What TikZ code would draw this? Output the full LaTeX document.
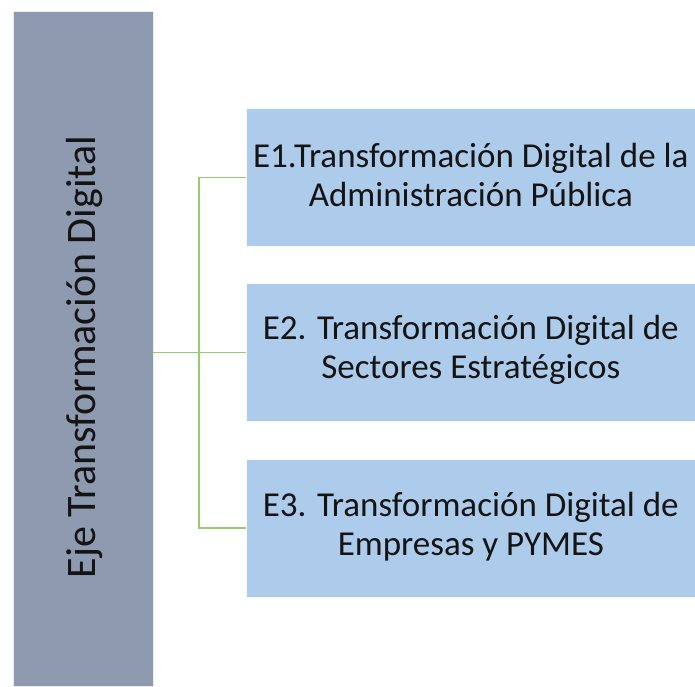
\documentclass[tikz,border=0pt]{standalone}
\usepackage{fontspec}
\setmainfont{Carlito}
\definecolor{axisgray}{RGB}{142,154,175}
\definecolor{boxblue}{RGB}{173,203,234}
\definecolor{linegreen}{RGB}{150,204,110}
\definecolor{txt}{RGB}{20,20,20}
\begin{document}
\begin{tikzpicture}[x=1pt,y=-1pt,
  axisbox/.style={draw=white!85!gray, line width=0.8pt, fill=axisgray, minimum width=140pt, minimum height=675pt, inner sep=0pt, anchor=north west},
  itembox/.style={draw=white!90!boxblue, line width=0.6pt, fill=boxblue, minimum width=449pt, minimum height=138pt, inner sep=0pt, anchor=north west},
  itemtext/.style={align=center, font=\fontsize{35}{39}\selectfont, text=txt},
  conn/.style={draw=linegreen, line width=1.8pt}]
\useasboundingbox (0,0) rectangle (695,686);
\node[axisbox] (axis) at (12.5,11) {};
\node[rotate=90, font=\fontsize{42}{48}\selectfont, text=txt] (axislabel) at (85,357) {Eje Transformación Digital};
\node[itembox] (e1) at (246,107.5) {};
\node[itembox] (e2) at (246,283) {};
\node[itembox] (e3) at (246,459) {};
\node[itemtext] (t1) at ([yshift=2pt]e1.center) {E1.Transformación Digital de la\\Administración Pública};
\node[itemtext] (t2) at ([yshift=2pt]e2.center) {E2. Transformación Digital de\\Sectores Estratégicos};
\node[itemtext] (t3) at ([yshift=2pt]e3.center) {E3. Transformación Digital de\\Empresas y PYMES};
\coordinate (hub) at (199,352.5);
\coordinate (top) at (199,177.5);
\coordinate (bot) at (199,528);
\draw[conn] (axis.east |- hub) -- (e2.west |- hub);
\draw[conn] (e1.west |- top) -- (top) -- (bot) -- (e3.west |- bot);
\end{tikzpicture}
\end{document}
